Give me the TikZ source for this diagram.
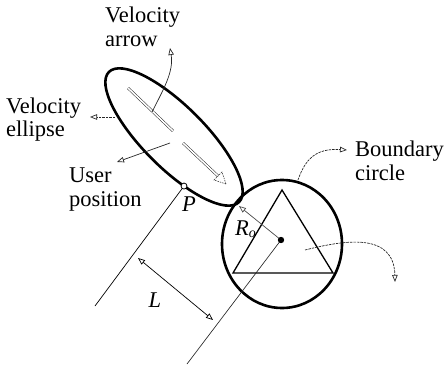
\documentclass[tikz,border=0pt]{standalone}
\usepackage{fontspec}
\setmainfont{Liberation Serif}
\usetikzlibrary{arrows.meta}
\begin{document}
\begin{tikzpicture}[x=1pt,y=-1pt,
  lbl/.style={inner sep=0pt, align=left, font=\fontsize{22.5}{24}\selectfont},
  bold/.style={draw=black, line width=2.6pt},
  thinline/.style={draw=black, line width=0.7pt},
  ptr/.style={draw=black!85, line width=0.7pt, -{Triangle[open, length=7pt, width=5.5pt]}},
  dptr/.style={ptr, dash pattern=on 2.5pt off 1pt},
  hollow/.style={draw=black!85, line width=0.5pt, double=white, double distance=1.6pt},
]
\useasboundingbox (0,0) rectangle (446,366);

% velocity ellipse
\begin{scope}[shift={(174,137)}, rotate=-45]
  \draw[bold] (0,0) ellipse [x radius=92, y radius=31];
  \coordinate (P) at (63:92 and 31);
  \coordinate (ec) at (0,0);
\end{scope}

% boundary circle
\coordinate (cc) at (282,244);
\draw[bold] (cc) ellipse [x radius=60, y radius=64];
\coordinate (o) at (281,240);

% triangle
\coordinate (t1) at (282,190);
\coordinate (t2) at (233,273);
\coordinate (t3) at (333,273);
\draw[line width=1.3pt, line join=miter] (t1) -- (t2) -- (t3) -- cycle;

% parallel lines
\coordinate (pe) at (95,306);
\coordinate (oe) at (187,364);
\draw[thinline] (P) -- (pe);
\draw[draw=black!85, line width=0.65pt] (o) -- (oe);

% L arrow
\coordinate (la) at (138,258);
\coordinate (lb) at (213,320);
\draw[draw=black, line width=0.7pt, {Triangle[open, length=7pt, width=5.5pt]}-{Triangle[open, length=7pt, width=5.5pt]}] (la) -- (lb);
\node[lbl, font=\fontsize{22.5}{24}\selectfont\itshape] (Lt) at (155,300) {L};

% R_o arrow
\coordinate (rh) at (239,206);
\draw[ptr, draw=black!70] (o) -- (rh);
\node[lbl, anchor=base west] (Rt) at (235,235) {\textit{R}\raisebox{-2pt}{\fontsize{14}{14}\selectfont\textit{o}}};

% center dot and P point
\fill[black] (o) circle [radius=3.2];
\draw[fill=white, line width=0.8pt] (P) circle [radius=3];
\node[lbl, anchor=base, font=\fontsize{22.5}{24}\selectfont\itshape] (Pt) at (189,211) {P};

% velocity arrow (hollow)
\coordinate (va1) at (128,88);
\coordinate (va2) at (173,131);
\coordinate (vb1) at (183,143);
\coordinate (vb2) at (218,176);
\coordinate (vt) at (226,184);
\coordinate (vc1) at (214,180);
\coordinate (vc2) at (222,172);
\draw[hollow] (va1) -- (va2);
\draw[hollow] (vb1) -- (vb2);
\draw[draw=black!80, line width=0.6pt, dash pattern=on 1.5pt off 1pt] (vt) -- (vc1) -- (vc2) -- cycle;

% labels (base anchor = baseline of last line)
\node[lbl, anchor=base west] (tVA) at (105,47) {Velocity\\arrow};
\node[lbl, anchor=base west] (tVE) at (6,137) {Velocity\\ellipse};
\node[lbl, anchor=base west] (tUP) at (69,206) {User\\position};
\node[lbl, anchor=base west] (tBC) at (355,180) {Boundary\\circle};

% pointers
\coordinate (pva) at (152,112);
\coordinate (pvah) at (170,48);
\draw[ptr] (pva) .. controls (163,90) and (174,72) .. (pvah);

\coordinate (pve) at (115,117);
\coordinate (pveh) at (90,117);
\draw[dptr] (pve) -- (pveh);

\coordinate (pup) at (170,143);
\coordinate (puph) at (117,162);
\draw[ptr] (pup) -- (puph);

\coordinate (pbc) at (298,180);
\coordinate (pbch) at (347,150);
\draw[dptr] (pbc) .. controls (305,160) and (315,148) .. (pbch);

\coordinate (ptr0) at (305,250);
\coordinate (ptrh) at (395,282);
\draw[dptr] (ptr0) .. controls (345,240) and (394,232) .. (ptrh);
\end{tikzpicture}
\end{document}
